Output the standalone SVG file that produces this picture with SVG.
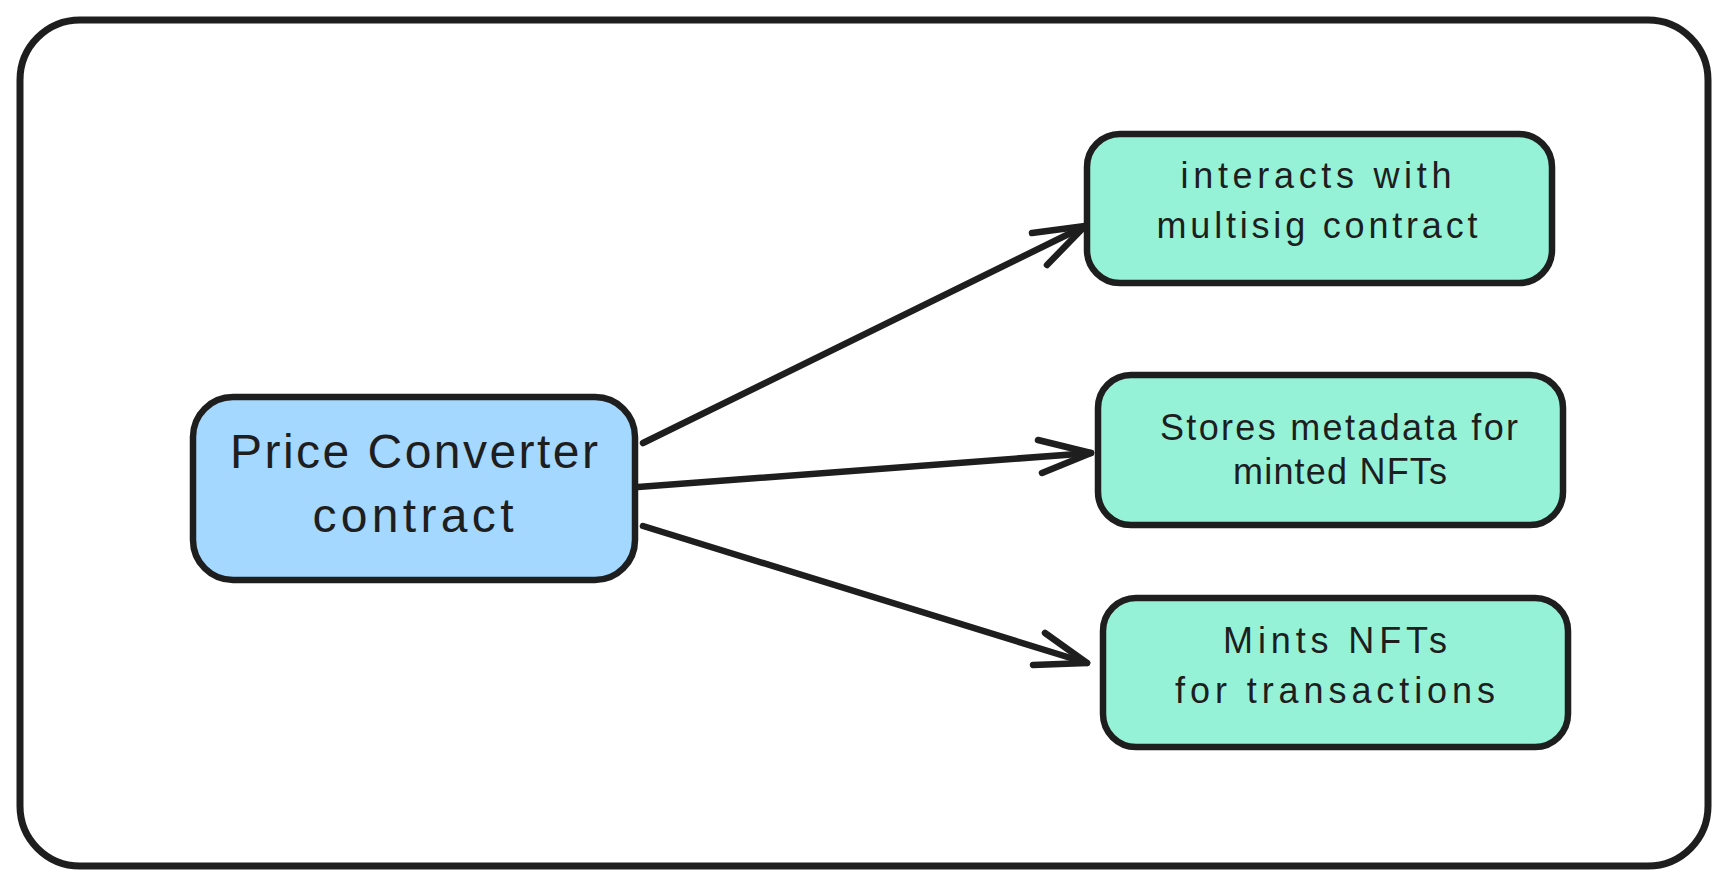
<svg xmlns="http://www.w3.org/2000/svg" width="1728" height="886" viewBox="0 0 1728 886">
<style>
.frame{fill:#ffffff;stroke:#1e1e1e;stroke-width:7}
.box{stroke:#1e1e1e;stroke-width:6.5}
.blue{fill:#a5d8ff}
.green{fill:#96f2d7}
.lbl{font-family:"Liberation Sans","Noto Sans",sans-serif;fill:#1e1e1e;text-anchor:middle}
.big{font-size:48px}
.small{font-size:36px}
.conn{fill:none;stroke:#1e1e1e;stroke-width:6.5;stroke-linecap:round;stroke-linejoin:round}
</style>
<rect width="1728" height="886" fill="#ffffff"/>
<g id="frame">
<rect class="frame" x="20" y="20" width="1688" height="846" rx="60" ry="60"/>
</g>
<g id="node-price-converter">
<rect class="box blue" x="193" y="397" width="442" height="183" rx="40" ry="40"/>
<text class="lbl big" x="414" y="468" textLength="368" lengthAdjust="spacing">Price Converter</text>
<text class="lbl big" x="413" y="532" textLength="201" lengthAdjust="spacing">contract</text>
</g>
<g id="node-multisig">
<rect class="box green" x="1087" y="134" width="465" height="149" rx="33" ry="33"/>
<text class="lbl small" x="1316" y="188" textLength="271" lengthAdjust="spacing">interacts with</text>
<text class="lbl small" x="1317" y="238" textLength="321" lengthAdjust="spacing">multisig contract</text>
</g>
<g id="node-metadata">
<rect class="box green" x="1098" y="375" width="465" height="150" rx="33" ry="33"/>
<text class="lbl small" x="1339" y="440" textLength="358" lengthAdjust="spacing">Stores metadata for</text>
<text class="lbl small" x="1340" y="484" textLength="214" lengthAdjust="spacing">minted NFTs</text>
</g>
<g id="node-mints">
<rect class="box green" x="1103" y="598" width="465" height="149" rx="33" ry="33"/>
<text class="lbl small" x="1335" y="653" textLength="224" lengthAdjust="spacing">Mints NFTs</text>
<text class="lbl small" x="1335" y="703" textLength="320" lengthAdjust="spacing">for transactions</text>
</g>
<g id="connectors">
<path class="conn" d="M643 443 L1085 226"/>
<path class="conn" d="M1032 233 L1085 226 L1047 265"/>
<path class="conn" d="M638 487 L1091 453"/>
<path class="conn" d="M1038 440 L1091 453 L1042 473"/>
<path class="conn" d="M643 526 L1087 663"/>
<path class="conn" d="M1045 633 L1087 663 L1033 665"/>
</g>
</svg>
